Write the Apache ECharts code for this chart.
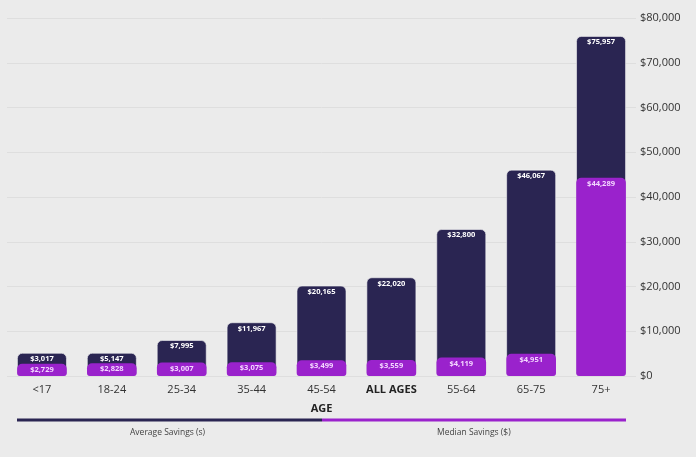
<!DOCTYPE html>
<html><head><meta charset="utf-8">
<script src="https://cdn.jsdelivr.net/npm/echarts@6/dist/echarts.min.js"></script>
<style>html,body{margin:0;padding:0;background:#ebebeb;}#c{width:696px;height:457px;}</style>
</head><body><div id="c"></div>
<script>
const categories = ['<17','18-24','25-34','35-44','45-54','ALL AGES','55-64','65-75','75+'];
const averageSavings = [3017,5147,7995,11967,20165,22020,32800,46067,75957];
const medianSavings = [2729,2828,3007,3075,3499,3559,4119,4951,44289];
const yTicks = [0,10000,20000,30000,40000,50000,60000,70000,80000];
const legendNames = ['Average Savings (s)','Median Savings ($)'];

const NAVY = '#2a2552', PURPLE = '#9a22cc';
const fmt = v => '$' + v.toLocaleString('en-US');
const chart = echarts.init(document.getElementById('c'));
chart.setOption({
  backgroundColor:'#ebebeb',
  animation:false,
  textStyle:{fontFamily:'Open Sans'},
  grid:{left:7,right:60,top:18,bottom:81},
  xAxis:{type:'category',data:categories,
    axisLine:{show:false},axisTick:{show:false},
    axisLabel:{interval:0,margin:8,fontSize:11,color:'#333',
      formatter:v=> v==='ALL AGES' ? '{b|'+v+'}' : v,
      rich:{b:{fontWeight:'bold',fontSize:11,color:'#222'}}},
    name:'AGE',nameLocation:'middle',nameGap:27,
    nameTextStyle:{fontWeight:'bold',fontSize:11,color:'#222'}},
  yAxis:{type:'value',position:'right',min:yTicks[0],max:yTicks[yTicks.length-1],interval:10000,
    axisLine:{show:false},axisTick:{show:false},
    splitLine:{lineStyle:{color:'#dedede',width:1}},
    axisLabel:{align:'left',margin:4,fontSize:11,color:'#333',formatter:v=>fmt(v)}},
  series:[
    {name:legendNames[0],type:'bar',data:averageSavings,barWidth:'71%',barGap:'-100%',barMinHeight:23,z:2,
      itemStyle:{color:NAVY,borderRadius:[5,5,3,3],borderColor:'#f4f4f4',borderWidth:0.6},
      label:{show:true,position:'insideTop',distance:2,fontSize:7.5,fontWeight:'bold',color:'#fff',formatter:p=>fmt(p.value)}},
    {name:legendNames[1],type:'bar',data:medianSavings,barWidth:'71%',barMinHeight:11,z:3,
      itemStyle:{color:PURPLE,borderRadius:[5,5,3,3]},
      label:{show:true,position:'insideTop',distance:2,fontSize:7.5,fontWeight:'bold',color:'#f3d6ff',formatter:p=>fmt(p.value)}}
  ],
  graphic:[
    {type:'line',shape:{x1:17,y1:420,x2:322,y2:420},style:{stroke:NAVY,lineWidth:3}},
    {type:'line',shape:{x1:322,y1:420,x2:626,y2:420},style:{stroke:PURPLE,lineWidth:3}},
    {type:'text',left:130,top:428,style:{text:legendNames[0],fontSize:8.5,fill:'#444',fontFamily:'Open Sans'}},
    {type:'text',left:437,top:428,style:{text:legendNames[1],fontSize:8.5,fill:'#444',fontFamily:'Open Sans'}}
  ]
});
</script></body></html>
